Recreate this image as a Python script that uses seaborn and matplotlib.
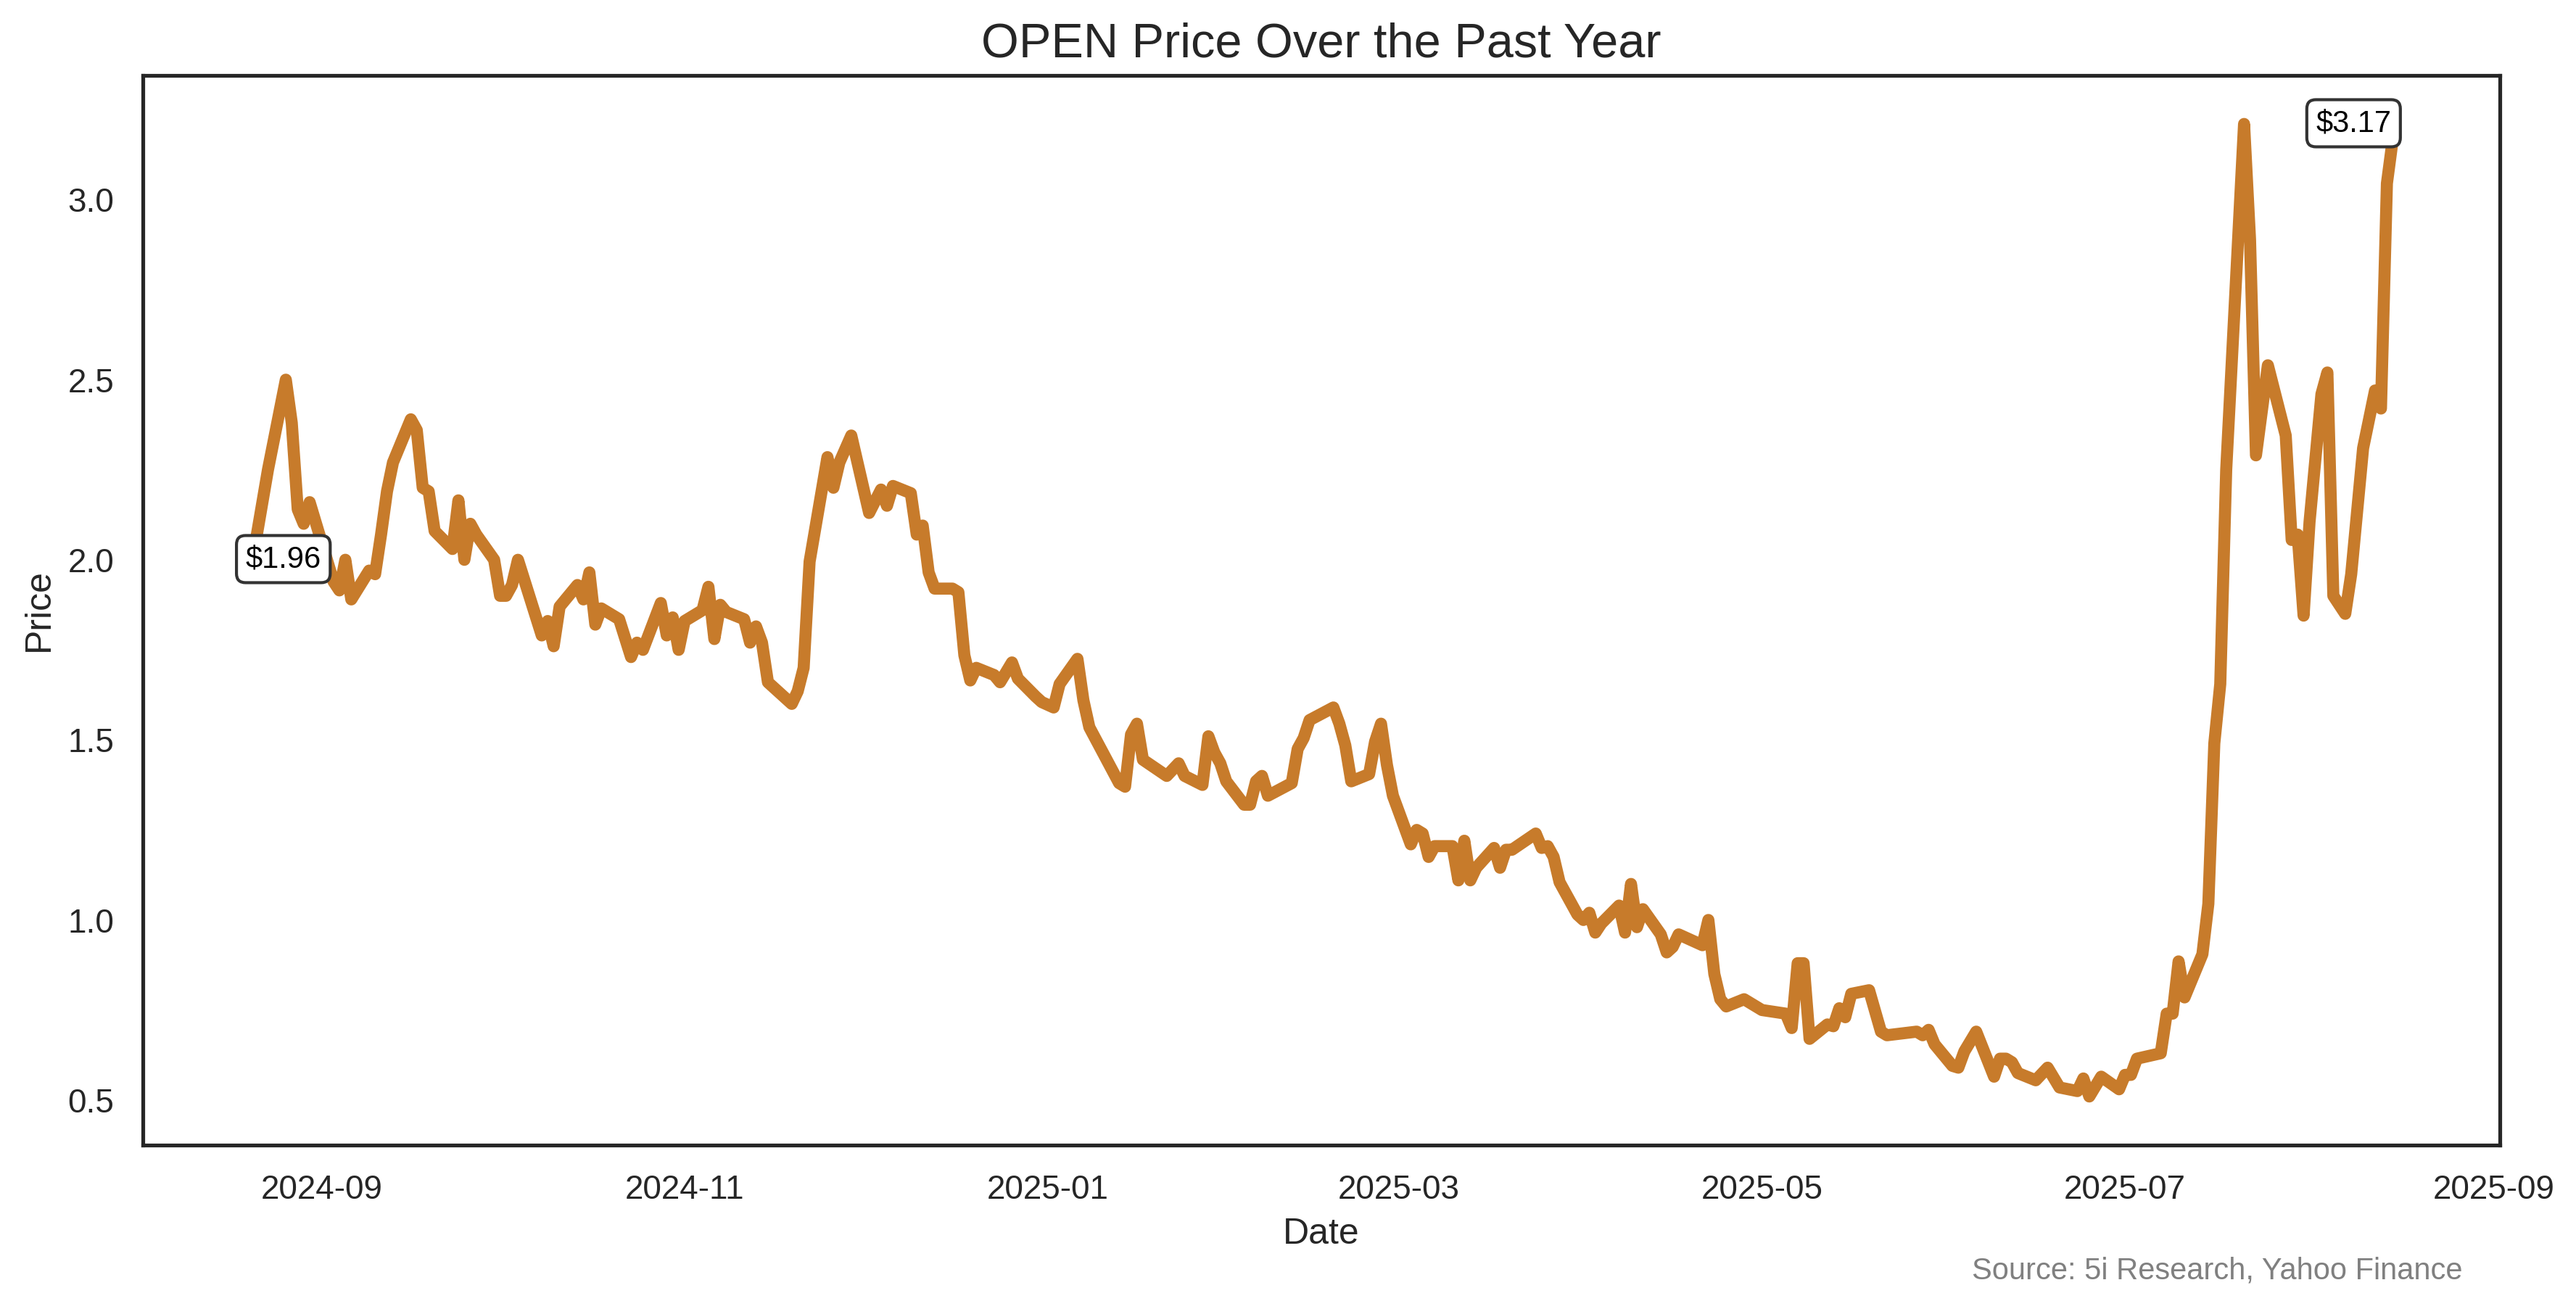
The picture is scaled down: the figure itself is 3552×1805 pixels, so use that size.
"""
plot.py
-------
Preço da ação OPEN ao longo do último ano (linha + rótulos de início/fim).
"""

import matplotlib

matplotlib.use("Agg")

import matplotlib.pyplot as plt
import pandas as pd
import seaborn as sns


TICKER = "OPEN"
SOURCE = "Source: 5i Research, Yahoo Finance"
LINE_COLOR = "#c77b2b"

DATES = [
    "2024-08-20", "2024-08-23", "2024-08-26", "2024-08-27", "2024-08-28",
    "2024-08-29", "2024-08-30", "2024-09-03", "2024-09-04", "2024-09-05",
    "2024-09-06", "2024-09-09", "2024-09-10", "2024-09-11", "2024-09-12",
    "2024-09-13", "2024-09-16", "2024-09-17", "2024-09-18", "2024-09-19",
    "2024-09-20", "2024-09-23", "2024-09-24", "2024-09-25", "2024-09-26",
    "2024-09-27", "2024-09-30", "2024-10-01", "2024-10-02", "2024-10-03",
    "2024-10-04", "2024-10-08", "2024-10-09", "2024-10-10", "2024-10-11",
    "2024-10-14", "2024-10-15", "2024-10-16", "2024-10-17", "2024-10-18",
    "2024-10-21", "2024-10-23", "2024-10-24", "2024-10-25", "2024-10-28",
    "2024-10-29", "2024-10-30", "2024-10-31", "2024-11-01", "2024-11-04",
    "2024-11-05", "2024-11-06", "2024-11-07", "2024-11-08", "2024-11-11",
    "2024-11-12", "2024-11-13", "2024-11-14", "2024-11-15", "2024-11-18",
    "2024-11-19", "2024-11-20", "2024-11-21", "2024-11-22", "2024-11-25",
    "2024-11-26", "2024-11-27", "2024-11-29", "2024-12-02", "2024-12-04",
    "2024-12-05", "2024-12-06", "2024-12-09", "2024-12-10", "2024-12-11",
    "2024-12-12", "2024-12-13", "2024-12-16", "2024-12-17", "2024-12-18",
    "2024-12-19", "2024-12-20", "2024-12-23", "2024-12-24", "2024-12-26",
    "2024-12-27", "2024-12-30", "2024-12-31", "2025-01-02", "2025-01-03",
    "2025-01-06", "2025-01-07", "2025-01-08", "2025-01-13", "2025-01-14",
    "2025-01-15", "2025-01-16", "2025-01-17", "2025-01-21", "2025-01-23",
    "2025-01-24", "2025-01-27", "2025-01-28", "2025-01-29", "2025-01-30",
    "2025-01-31", "2025-02-03", "2025-02-04", "2025-02-05", "2025-02-06",
    "2025-02-07", "2025-02-11", "2025-02-12", "2025-02-13", "2025-02-14",
    "2025-02-18", "2025-02-19", "2025-02-20", "2025-02-21", "2025-02-24",
    "2025-02-25", "2025-02-26", "2025-02-27", "2025-02-28", "2025-03-03",
    "2025-03-04", "2025-03-05", "2025-03-06", "2025-03-07", "2025-03-10",
    "2025-03-11", "2025-03-12", "2025-03-13", "2025-03-14", "2025-03-17",
    "2025-03-18", "2025-03-19", "2025-03-20", "2025-03-24", "2025-03-25",
    "2025-03-26", "2025-03-27", "2025-03-28", "2025-03-31", "2025-04-01",
    "2025-04-02", "2025-04-03", "2025-04-04", "2025-04-07", "2025-04-08",
    "2025-04-09", "2025-04-10", "2025-04-11", "2025-04-14", "2025-04-15",
    "2025-04-16", "2025-04-17", "2025-04-21", "2025-04-22", "2025-04-23",
    "2025-04-24", "2025-04-25", "2025-04-28", "2025-05-01", "2025-05-05",
    "2025-05-06", "2025-05-07", "2025-05-08", "2025-05-09", "2025-05-12",
    "2025-05-13", "2025-05-14", "2025-05-15", "2025-05-16", "2025-05-19",
    "2025-05-21", "2025-05-22", "2025-05-27", "2025-05-28", "2025-05-29",
    "2025-05-30", "2025-06-02", "2025-06-03", "2025-06-04", "2025-06-06",
    "2025-06-09", "2025-06-10", "2025-06-11", "2025-06-12", "2025-06-13",
    "2025-06-16", "2025-06-18", "2025-06-20", "2025-06-23", "2025-06-24",
    "2025-06-25", "2025-06-27", "2025-06-30", "2025-07-01", "2025-07-02",
    "2025-07-03", "2025-07-07", "2025-07-08", "2025-07-09", "2025-07-10",
    "2025-07-11", "2025-07-14", "2025-07-15", "2025-07-16", "2025-07-17",
    "2025-07-18", "2025-07-21", "2025-07-22", "2025-07-23", "2025-07-25",
    "2025-07-28", "2025-07-29", "2025-07-30", "2025-07-31", "2025-08-01",
    "2025-08-03", "2025-08-04", "2025-08-05", "2025-08-07", "2025-08-08",
    "2025-08-10", "2025-08-12", "2025-08-13", "2025-08-14", "2025-08-15",
]

PRICES = [
    1.96, 2.25, 2.50, 2.38, 2.14,
    2.10, 2.16, 1.94, 1.915, 2.00,
    1.89, 1.97, 1.96, 2.07, 2.19,
    2.27, 2.39, 2.36, 2.20, 2.19,
    2.08, 2.03, 2.165, 2.00, 2.10,
    2.07, 2.00, 1.90, 1.90, 1.93,
    2.00, 1.79, 1.83, 1.76, 1.87,
    1.93, 1.89, 1.965, 1.82, 1.865,
    1.835, 1.73, 1.77, 1.75, 1.88,
    1.79, 1.84, 1.75, 1.83, 1.86,
    1.925, 1.78, 1.875, 1.855, 1.835,
    1.77, 1.815, 1.77, 1.66, 1.615,
    1.60, 1.635, 1.70, 1.995, 2.285,
    2.20, 2.27, 2.345, 2.13, 2.195,
    2.15, 2.205, 2.185, 2.07, 2.095,
    1.965, 1.92, 1.92, 1.91, 1.735,
    1.665, 1.70, 1.68, 1.66, 1.715,
    1.67, 1.62, 1.605, 1.59, 1.655,
    1.725, 1.61, 1.535, 1.38, 1.37,
    1.515, 1.545, 1.445, 1.40, 1.435,
    1.40, 1.375, 1.51, 1.465, 1.435,
    1.385, 1.32, 1.32, 1.385, 1.40,
    1.345, 1.38, 1.475, 1.505, 1.555,
    1.59, 1.545, 1.485, 1.385, 1.405,
    1.495, 1.545, 1.43, 1.345, 1.21,
    1.25, 1.24, 1.175, 1.205, 1.205,
    1.11, 1.22, 1.11, 1.145, 1.20,
    1.145, 1.195, 1.195, 1.24, 1.20,
    1.205, 1.175, 1.105, 1.015, 1.00,
    1.02, 0.965, 0.99, 1.04, 0.965,
    1.10, 0.98, 1.03, 0.96, 0.91,
    0.925, 0.96, 0.93, 1.00, 0.85,
    0.78, 0.76, 0.78, 0.75, 0.74,
    0.70, 0.88, 0.88, 0.67, 0.71,
    0.705, 0.755, 0.73, 0.795, 0.805,
    0.69, 0.68, 0.69, 0.68, 0.695,
    0.655, 0.595, 0.59, 0.635, 0.69,
    0.565, 0.615, 0.615, 0.605, 0.575,
    0.555, 0.59, 0.535, 0.525, 0.56,
    0.51, 0.565, 0.53, 0.57, 0.57,
    0.615, 0.63, 0.74, 0.74, 0.885,
    0.785, 0.905, 1.045, 1.49, 1.655,
    2.25, 3.21, 2.89, 2.29, 2.54,
    2.345, 2.055, 2.07, 1.845, 2.105,
    2.46, 2.52, 1.90, 1.85, 1.96,
    2.31, 2.47, 2.42, 3.045, 3.17,
]


def plot_preco(df: pd.DataFrame) -> None:
    """
    Linha do preço com rótulo no primeiro e no último ponto.
    """

    fig = plt.figure(figsize=(11.84, 6.017), dpi=300)
    ax = fig.add_axes([0.0555, 0.1252, 0.915, 0.8172])

    sns.lineplot(
        data=df,
        x="Date",
        y="Price",
        color=LINE_COLOR,
        linewidth=4,
        ax=ax
    )

    caixa = dict(boxstyle="round,pad=0.3", fc="white", ec="#333333", lw=1)

    primeiro = df.iloc[0]
    ultimo = df.iloc[-1]

    ax.annotate(
        f"${primeiro['Price']:.2f}",
        xy=(primeiro["Date"], primeiro["Price"]),
        xytext=(11, 5),
        textcoords="offset points",
        ha="center",
        va="center",
        fontsize=10,
        color="black",
        bbox=caixa
    )

    ax.annotate(
        f"${ultimo['Price']:.2f}",
        xy=(ultimo["Date"], ultimo["Price"]),
        xytext=(-13, 5),
        textcoords="offset points",
        ha="center",
        va="center",
        fontsize=10,
        color="black",
        bbox=caixa
    )

    ax.set_title(f"{TICKER} Price Over the Past Year", fontsize=16)
    ax.set_xlabel("Date", fontsize=12)
    ax.set_ylabel("Price", fontsize=12)
    ax.tick_params(labelsize=11)

    fig.text(
        0.956, 0.029, SOURCE,
        ha="right", va="center",
        fontsize=10, color="gray"
    )

    fig.savefig("out.png", dpi=300)


sns.set_theme(style="white")
plt.rcParams["font.family"] = ["Liberation Sans", "DejaVu Sans"]

dados = pd.DataFrame({"Date": pd.to_datetime(DATES), "Price": PRICES})

plot_preco(dados)
